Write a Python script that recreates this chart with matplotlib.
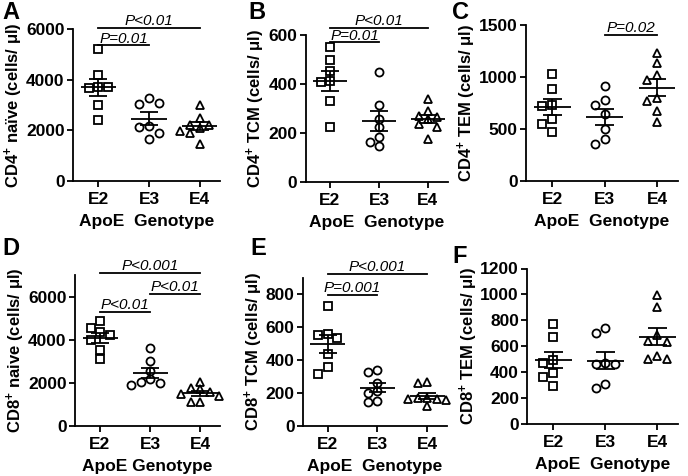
"""ApoE genotype vs CD4/CD8 T cell subsets: six Prism-style scatter panels."""

import numpy as np
import matplotlib
matplotlib.use("Agg")
import matplotlib.pyplot as plt

plt.rcParams["font.family"] = ["Liberation Sans", "DejaVu Sans"]
plt.rcParams["font.weight"] = "bold"
plt.rcParams["mathtext.fontset"] = "custom"
plt.rcParams["mathtext.rm"] = "Liberation Sans:bold"
plt.rcParams["mathtext.bf"] = "Liberation Sans:bold"
plt.rcParams["mathtext.it"] = "Liberation Sans:italic"

GENOTYPES = ["E2", "E3", "E4"]
MARKERS = ["s", "o", "^"]

# --- values (cells/ul) ---
cd4_naive = [
    [5200, 4200, 3700, 3650, 3700, 3000, 2400],
    [3270, 3030, 3070, 2160, 2130, 1870, 1650],
    [2990, 2480, 2200, 2200, 2100, 1950, 1900, 1470],
]
cd4_tcm = [
    [549, 498, 452, 410, 408, 328, 225],
    [448, 314, 257, 222, 183, 163, 146],
    [339, 290, 270, 265, 255, 235, 225, 175],
]
cd4_tem = [
    [1030, 880, 730, 720, 590, 550, 465],
    [910, 781, 726, 642, 500, 400, 352],
    [1226, 1135, 1023, 968, 797, 771, 668, 565],
]
cd8_naive = [
    [4870, 4530, 4340, 4190, 4000, 3520, 3100],
    [3600, 3000, 2550, 2150, 2050, 2000, 1880],
    [2050, 1740, 1700, 1580, 1450, 1400, 1120, 1090],
]
cd8_tcm = [
    [725, 558, 552, 536, 434, 355, 313],
    [339, 325, 258, 211, 197, 152, 142],
    [268, 258, 170, 166, 165, 162, 155, 122],
]
cd8_tem = [
    [772, 668, 492, 471, 396, 363, 290],
    [743, 699, 471, 466, 461, 311, 277],
    [992, 901, 684, 640, 635, 526, 500, 500],
]

# comparisons: (group a, group b, bar height, label)
cd4_naive_p = [(0, 2, 6050, "P<0.01"), (0, 1, 5350, "P=0.01")]
cd4_tcm_p = [(0, 2, 628, "P<0.01"), (0, 1, 570, "P=0.01")]
cd4_tem_p = [(1, 2, 1403, "P=0.02")]
cd8_naive_p = [(0, 2, 7085, "P<0.001"), (1, 2, 6110, "P<0.01"), (0, 1, 5270, "P<0.01")]
cd8_tcm_p = [(0, 2, 924, "P<0.001"), (0, 1, 796, "P=0.001")]
cd8_tem_p = []

UNIT = " (cells/ \u03bcl)"
panels = [
    # letter, ylabel, data, ymax, ystep, comparisons, xlabel, box px (left, top, right, bottom), letter px
    ("A", "CD4$^{+}$ na\u00efve" + UNIT, cd4_naive, 6000, 2000, cd4_naive_p,
     "ApoE  Genotype", (73, 29, 220, 180.7), (2, 1)),
    ("B", "CD4$^{+}$ TCM" + UNIT, cd4_tcm, 600, 200, cd4_tcm_p,
     "ApoE  Genotype", (305.5, 35, 447.5, 181.5), (248, 1)),
    ("C", "CD4$^{+}$ TEM" + UNIT, cd4_tem, 1500, 500, cd4_tem_p,
     "ApoE  Genotype", (526, 25, 678, 180.7), (452, 1)),
    ("D", "CD8$^{+}$ naive" + UNIT, cd8_naive, 7000, 2000, cd8_naive_p,
     "ApoE Genotype", (75, 275, 220, 425.7), (2, 237)),
    ("E", "CD8$^{+}$ TCM" + UNIT, cd8_tcm, 900, 200, cd8_tcm_p,
     "ApoE  Genotype", (303, 277.7, 447, 425.7), (250, 237)),
    ("F", "CD8$^{+}$ TEM" + UNIT, cd8_tem, 1200, 200, cd8_tem_p,
     "ApoE  Genotype", (527.3, 268.5, 678.3, 424), (452, 245)),
]

W, H = 688, 476
LW = 1.3


def swarm_slots(values, min_gap):
    # greedy: centre first, then left/right columns when points would overlap
    placed = []
    slots = []
    for v in values:
        for slot in (0, -1, 1, -2, 2):
            if all(abs(v - pv) >= min_gap for pv, ps in placed if ps == slot):
                break
        placed.append((v, slot))
        slots.append(slot)
    return np.array(slots)


def draw_panel(fig, letter, ylabel, groups, ymax, ystep, comps, xlabel, box, letter_pos):
    left, top, right, bottom = box
    ax = fig.add_axes([left / W, 1 - bottom / H, (right - left) / W, (bottom - top) / H])
    ax.set_xlim(-0.5, 2.4)
    ax.set_ylim(0, ymax)
    ax.set_yticks(np.arange(0, ymax + 1, ystep) if ymax % ystep == 0
                  else np.arange(0, ymax, ystep))
    ax.set_xticks(range(len(GENOTYPES)))
    ax.set_xticklabels(GENOTYPES)

    min_gap = ymax * 7.5 / ax.bbox.height
    for i, (vals, mk) in enumerate(zip(groups, MARKERS)):
        vals = np.asarray(vals, dtype=float)
        xs = i + 0.19 * swarm_slots(vals, min_gap)
        ms = 5.2 if mk == "s" else 5.8
        ax.plot(xs, vals, ls="none", marker=mk, ms=ms, mfc="white", mec="black",
                mew=1.3, zorder=2, clip_on=False)
        mean = vals.mean()
        sem = vals.std(ddof=1) / np.sqrt(len(vals))
        ax.hlines(mean, i - 0.35, i + 0.35, color="black", lw=LW, zorder=3)
        ax.vlines(i, mean - sem, mean + sem, color="black", lw=LW, zorder=3)
        ax.hlines([mean - sem, mean + sem], i - 0.18, i + 0.18, color="black",
                  lw=LW, zorder=3)

    for a, b, h, label in comps:
        ax.plot([a, b], [h, h], color="black", lw=LW, clip_on=False)
        ax.annotate(label, ((a + b) / 2, h), xytext=(0, 2), textcoords="offset points",
                    ha="center", va="baseline", fontsize=11, fontstyle="italic",
                    fontweight="normal", annotation_clip=False)

    for side in ("top", "right"):
        ax.spines[side].set_visible(False)
    for side in ("left", "bottom"):
        ax.spines[side].set_linewidth(LW)
    ax.tick_params(direction="out", length=4, width=LW, labelsize=12.5, pad=2)
    ax.tick_params(axis="x", pad=4)
    ax.set_ylabel(ylabel, fontsize=12, fontweight="bold", labelpad=0.5)
    ax.set_xlabel(xlabel, fontsize=12.5, fontweight="bold", labelpad=5)

    fig.text(letter_pos[0] / W, 1 - letter_pos[1] / H, letter, fontsize=17,
             fontweight="bold", ha="left", va="top")
    return ax


def main():
    fig = plt.figure(figsize=(W / 100, H / 100), dpi=100)
    for p in panels:
        draw_panel(fig, *p)
    fig.savefig("out.png", dpi=100)
    plt.close(fig)


if __name__ == "__main__":
    main()
